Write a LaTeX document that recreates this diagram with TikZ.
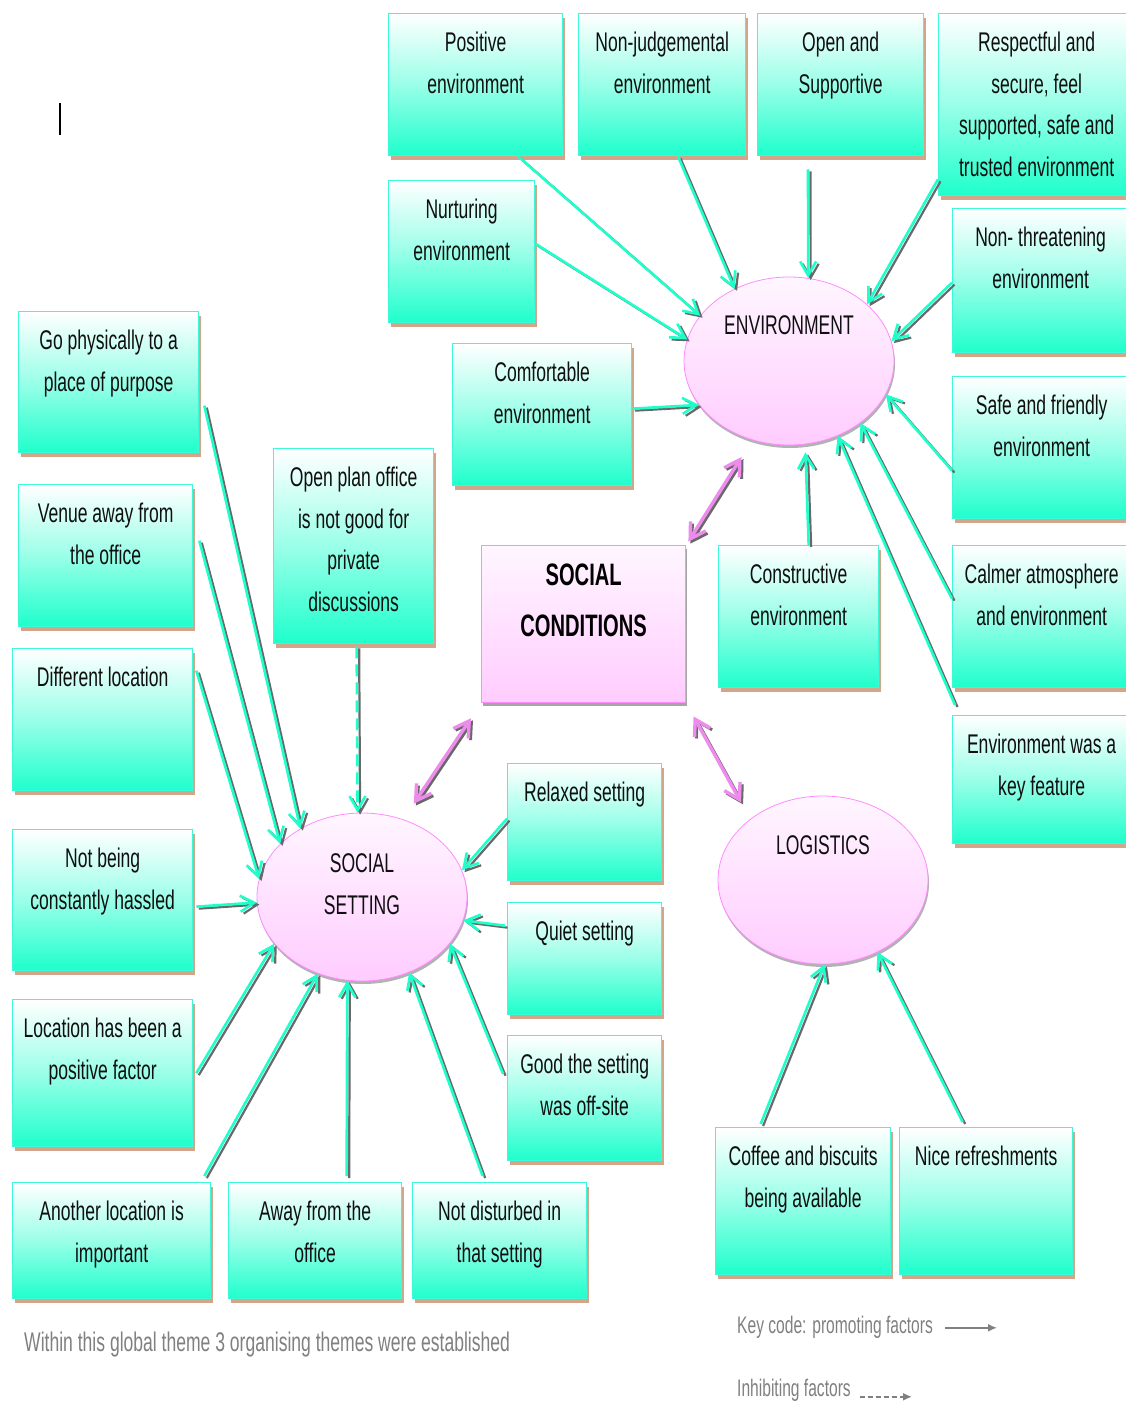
\documentclass[tikz,border=0pt]{standalone}
\usepackage{fontspec}
\setmainfont{Liberation Sans}[FakeStretch=0.65]
\usetikzlibrary{arrows.meta,shadows,shapes.geometric}

\definecolor{aqua}{RGB}{30,255,204}
\definecolor{aquaedge}{RGB}{60,250,215}
\definecolor{tanshade}{RGB}{210,166,138}
\definecolor{pinklo}{RGB}{255,204,255}
\definecolor{pinkhi}{RGB}{255,246,255}
\definecolor{pinkedge}{RGB}{255,140,255}
\definecolor{orchidline}{RGB}{238,140,238}
\definecolor{shadegrey}{RGB}{105,105,105}
\definecolor{keygrey}{RGB}{128,128,128}
\definecolor{inkblack}{RGB}{15,15,15}

% fixed-size card content: text starts near the top of the card
\newcommand\cardtext[3]{\parbox[c][#2pt][t]{#1pt}{\centering\rule{0pt}{38pt}#3\par}}

\begin{document}
\begin{tikzpicture}[x=1pt,y=-1pt,
  card/.style={draw=aquaedge, line width=1.3pt, inner sep=0pt, anchor=north west,
    top color=white, bottom color=aqua, middle color=aqua!45!white,
    general shadow={fill=tanshade, shadow xshift=2pt, shadow yshift=-4pt},
    font=\fontsize{27}{41.5}\selectfont, text=inkblack},
  hub/.style={draw=pinkedge, line width=1.3pt, inner sep=0pt, anchor=north west,
    top color=pinkhi, bottom color=pinklo,
    general shadow={fill=gray!70, shadow xshift=1.5pt, shadow yshift=-3pt},
    font=\fontsize{31}{51}\selectfont\bfseries, text=black},
  theme/.style={ellipse, draw=pinkedge, line width=0.8pt, inner sep=0pt,
    minimum width=210pt, minimum height=168pt,
    top color=pinkhi, bottom color=pinklo,
    general shadow={fill=gray!60, shadow xshift=1pt, shadow yshift=-3pt}},
  themetext/.style={font=\fontsize{27}{42}\selectfont, text=inkblack, align=center, inner sep=0pt},
  promo/.style={draw=aqua, line width=2.6pt, -{Straight Barb[length=14pt,width=16pt]},
    preaction={draw=shadegrey, line width=2.2pt, -{Straight Barb[length=14pt,width=16pt]},
      transform canvas={xshift=2.5pt,yshift=-2pt}}},
  inhib/.style={promo, dash pattern=on 12pt off 6pt},
  link/.style={draw=orchidline, line width=3.4pt,
    {Straight Barb[length=15pt,width=18pt]}-{Straight Barb[length=15pt,width=18pt]},
    preaction={draw=shadegrey, line width=3pt,
      {Straight Barb[length=15pt,width=18pt]}-{Straight Barb[length=15pt,width=18pt]},
      transform canvas={xshift=2pt,yshift=-2pt}}},
  note/.style={text=keygrey, inner sep=0pt, anchor=base west},
  keyline/.style={draw=keygrey, line width=1.8pt, -{Latex[length=9pt,width=8pt]}}
]
% page
\fill[white] (0,0) rectangle (1126,1403);
\useasboundingbox (0,0) rectangle (1126,1403);

% text cursor mark
\draw[line width=1.2pt, black] (60,103) -- (60,135);

% ---------- central theme ----------
\node[hub] (sc) at (481,545)
  {\parbox[c][157pt][t]{204pt}{\centering\rule{0pt}{40pt}SOCIAL\\CONDITIONS\par}};

% ---------- organising themes ----------
\node[theme] (env) at (789,361) {};
\node[themetext] (envtxt) at ([yshift=36pt]env.center) {ENVIRONMENT};
\node[theme] (ss) at (362,897) {};
\node[themetext] (sstxt) at ([yshift=13pt]ss.center) {SOCIAL\\SETTING};
\node[theme] (log) at (823,880) {};
\node[themetext] (logtxt) at ([yshift=35pt]log.center) {LOGISTICS};

% ---------- environment factors ----------
\node[card] (pos)  at (388,13)  {\cardtext{174}{142}{Positive\\environment}};
\node[card] (nonj) at (578,13)  {\cardtext{167}{142}{Non-judgemental\\environment}};
\node[card] (open) at (757,13)  {\cardtext{166}{142}{Open and\\Supportive}};
\node[card] (resp) at (938,13)  {\cardtext{196}{182}{Respectful and\\secure, feel\\supported, safe and\\trusted environment}};
\node[card] (nur)  at (388,180) {\cardtext{146}{142}{Nurturing\\environment}};
\node[card] (nont) at (952,208) {\cardtext{176}{144}{Non- threatening\\environment}};
\node[card] (comf) at (452,343) {\cardtext{179}{142}{Comfortable\\environment}};
\node[card] (safe) at (952,376) {\cardtext{178}{142}{Safe and friendly\\environment}};
\node[card] (cons) at (718,545) {\cardtext{160}{142}{Constructive\\environment}};
\node[card] (calm) at (952,545) {\cardtext{178}{142}{Calmer atmosphere\\and environment}};
\node[card] (keyf) at (952,715) {\cardtext{178}{128}{Environment was a\\key feature}};

% ---------- social setting factors ----------
\node[card] (oplan)   at (273,448)  {\cardtext{160}{195}{Open plan office\\is not good for\\private\\discussions}};
\node[card] (gophys)  at (18,311)   {\cardtext{180}{141}{Go physically to a\\place of purpose}};
\node[card] (venue)   at (18,484)   {\cardtext{174}{142}{Venue away from\\the office}};
\node[card] (diff)    at (12,648)   {\cardtext{180}{142}{Different location}};
\node[card] (hass)    at (12,829)   {\cardtext{180}{141}{Not being\\constantly hassled}};
\node[card] (locpos)  at (12,999)   {\cardtext{180}{147}{Location has been a\\positive factor}};
\node[card] (another) at (12,1182)  {\cardtext{198}{116}{Another location is\\important}};
\node[card] (away)    at (228,1182) {\cardtext{173}{116}{Away from the\\office}};
\node[card] (notdist) at (412,1182) {\cardtext{174}{116}{Not disturbed in\\that setting}};
\node[card] (relax)   at (507,763)  {\cardtext{154}{117}{Relaxed setting}};
\node[card] (quiet)   at (507,902)  {\cardtext{154}{112}{Quiet setting}};
\node[card] (good)    at (507,1035) {\cardtext{154}{125}{Good the setting\\was off-site}};

% ---------- logistics factors ----------
\node[card] (coffee) at (715,1127) {\cardtext{175}{147}{Coffee and biscuits\\being available}};
\node[card] (nice)   at (899,1127) {\cardtext{173}{147}{Nice refreshments}};

% ---------- links between themes ----------
\draw[link, shorten <=4pt, shorten >=20pt] (sc.north east) -- (env.245);
\draw[link, shorten <=18pt, shorten >=19pt] (sc.south west) -- (ss.62);
\draw[link, shorten <=15pt, shorten >=19pt] (sc.south east) -- (log.140);

% ---------- promoting factors: environment ----------
\draw[promo] ([xshift=130pt]pos.south west) -- (env.153);
\draw[promo] ([xshift=100pt]nonj.south west) -- (env.127);
\draw[promo] ([xshift=51pt,yshift=-13pt]open.south west) -- (env.77);
\draw[promo] ([yshift=17pt]resp.south west) -- (env.36);
\draw[promo] ([yshift=8pt]nur.east) -- (env.168);
\draw[promo] ([yshift=-2pt]nont.west) -- (env.11);
\draw[promo] ([yshift=6pt]comf.east) -- (env.206);
\draw[promo] ([yshift=-23pt]safe.west) -- (env.341);
\draw[promo, shorten >=8pt] ([xshift=10pt]cons.north) -- (env.281);
\draw[promo] ([yshift=18pt]calm.west) -- (env.319);
\draw[promo] ([xshift=3pt,yshift=10pt]keyf.north west) -- (env.303);

% ---------- promoting / inhibiting factors: social setting ----------
\draw[promo] ([xshift=5pt,yshift=-23.5pt]gophys.east) -- (ss.132);
\draw[promo] ([xshift=6pt,yshift=15pt]venue.east) -- (ss.147);
\draw[promo] ([xshift=3pt,yshift=49pt]diff.east) -- (ss.170);
\draw[promo] ([xshift=3pt,yshift=-6.5pt]hass.east) -- (ss.183);
\draw[promo] ([xshift=3pt]locpos.east) -- (ss.208);
\draw[promo] ([xshift=-7pt,yshift=6pt]another.north east) -- (ss.240);
\draw[promo] ([xshift=31.5pt,yshift=6pt]away.north) -- (ss.260);
\draw[promo] ([xshift=-17pt,yshift=6pt]notdist.north) -- (ss.302);
\draw[promo] ([yshift=3.5pt]relax.west) -- (ss.15);
\draw[promo] ([xshift=-2pt,yshift=33pt]quiet.west) -- (ss.347);
\draw[promo] ([xshift=-4pt,yshift=24.5pt]good.west) -- (ss.332);
\draw[inhib] ([xshift=3pt,yshift=-2pt]oplan.south) -- (ss.93);

% ---------- promoting factors: logistics ----------
\draw[promo] ([xshift=-42.5pt,yshift=3pt]coffee.north) -- (log.271);
\draw[promo] ([xshift=-23.5pt,yshift=5pt]nice.north) -- (log.307);

% ---------- captions and key ----------
\node[note, font=\fontsize{27}{32}\selectfont] (caption) at (24,1351)
  {Within this global theme 3 organising themes were established};
\node[note, font=\fontsize{24}{28}\selectfont] (keypromo) at (737,1333)
  {Key code: promoting factors};
\node[note, font=\fontsize{24}{28}\selectfont] (keyinhib) at (737,1396)
  {Inhibiting factors};
\draw[keyline] ([xshift=12pt,yshift=-1pt]keypromo.east) -- ++(52,0);
\draw[keyline, dash pattern=on 5pt off 3pt] ([xshift=9pt,yshift=-7pt]keyinhib.east) -- ++(52,0);
\end{tikzpicture}
\end{document}
